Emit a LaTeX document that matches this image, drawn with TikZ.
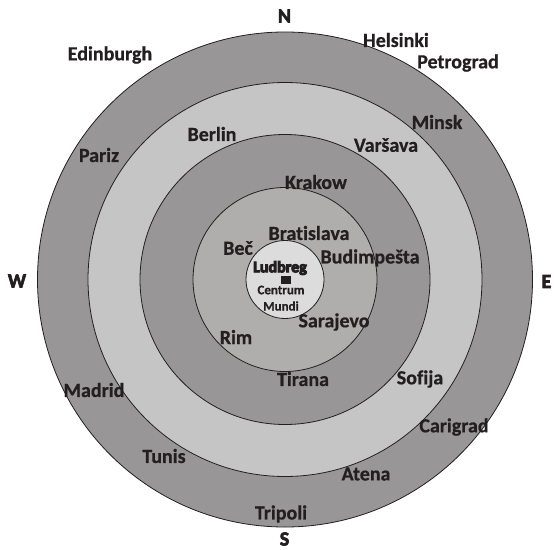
\documentclass[tikz,border=0pt]{standalone}
\usepackage{fontspec}
\setmainfont{Carlito}[Ligatures=NoCommon,BoldFeatures={FakeBold=0.6}]
\newfontfamily\heavyfont{Carlito}[Ligatures=NoCommon,BoldFeatures={FakeBold=3}]
\newfontfamily\blackfont{Carlito}[Ligatures=NoCommon,BoldFeatures={FakeBold=6}]
\definecolor{ringdark}{HTML}{989696}
\definecolor{ringlight}{HTML}{C5C5C5}
\definecolor{ringmid}{HTML}{AFAEAD}
\definecolor{ringcore}{HTML}{DCDCDC}
\definecolor{ink}{HTML}{231F20}
\begin{document}
\begin{tikzpicture}[x=1pt,y=-1pt,
  ring/.style={draw=ink,line width=0.8pt},
  city/.style={inner sep=0pt,text=ink,font=\bfseries\fontsize{20}{20}\selectfont},
  compass/.style={inner sep=0pt,text=ink,font=\heavyfont\bfseries\fontsize{20}{20}\selectfont},
  small/.style={inner sep=0pt,text=ink,font=\bfseries\fontsize{13}{13}\selectfont}]
\useasboundingbox (0,0) rectangle (554,549);
\coordinate (c) at (285,279.5);
\fill[white] (0,0) rectangle (554,549);
\draw[ring,fill=ringdark] (c) circle[radius=247.5pt];
\draw[ring,fill=ringlight] (c) circle[radius=197pt];
\draw[ring,fill=ringdark] (c) circle[radius=145pt];
\draw[ring,fill=ringmid] (c) circle[radius=92pt];
\draw[ring,fill=ringcore] (c) circle[radius=39pt];
% compass
\node[compass] (n) at (284.5,16) {N};
\node[compass] (s) at (284.5,539) {S};
\node[compass] (w) at (17,281) {W};
\node[compass] (e) at (546.5,281.5) {E};
% outer ring
\node[city] (edinburgh) at (110,55) {Edinburgh};
\node[city] (helsinki) at (396,40) {Helsinki};
\node[city] (petrograd) at (458,63) {Petrograd};
\node[city] (pariz) at (99,155) {Pariz};
\node[city] (madrid) at (94,390) {Madrid};
\node[city] (carigrad) at (454,427) {Carigrad};
\node[city] (atena) at (366,474) {Atena};
\node[city] (tripoli) at (281,514) {Tripoli};
\node[city] (tunis) at (164,456) {Tunis};
% second ring
\node[city] (berlin) at (212,134) {Berlin};
\node[city] (minsk) at (437,122) {Minsk};
\node[city] (varsava) at (386,145) {Varšava};
\node[city] (sofija) at (420,379) {Sofija};
% third ring
\node[city] (krakow) at (316,182) {Krakow};
\node[city] (tirana) at (303,379) {Tirana};
% fourth ring
\node[city] (bec) at (238,248) {Beč};
\node[city] (bratislava) at (309,233) {Bratislava};
\node[city] (budimpesta) at (370,258) {Budimpešta};
\node[city] (sarajevo) at (334,322) {Sarajevo};
\node[city] (rim) at (236,337) {Rim};
% centre
\node[inner sep=0pt,text=ink,font=\blackfont\bfseries\fontsize{16}{16}\selectfont] (ludbreg) at (280,268) {Ludbreg};
\node[fill=ink,minimum width=10pt,minimum height=8pt,inner sep=0pt] (mark) at (286,280) {};
\node[small] (centrum) at (281,290) {Centrum};
\node[small] (mundi) at (281,306) {Mundi};
\end{tikzpicture}
\end{document}
